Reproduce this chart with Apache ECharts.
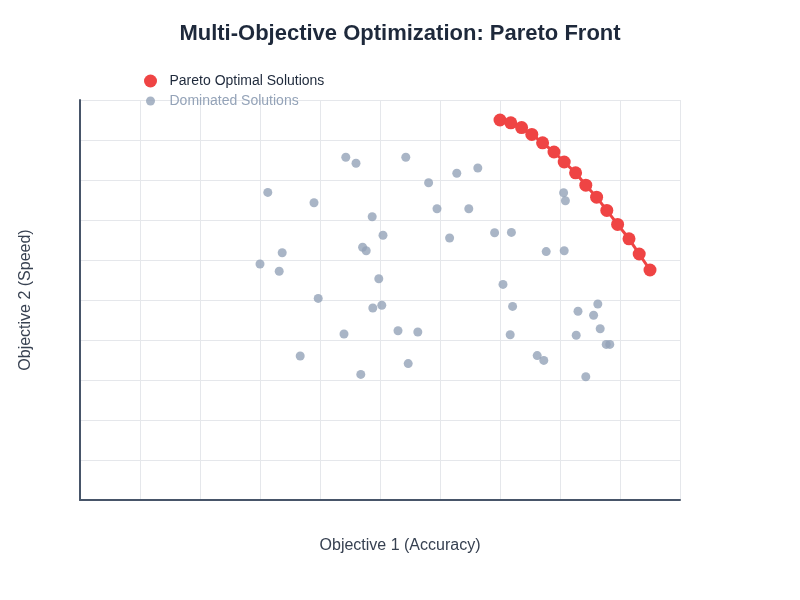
<!DOCTYPE html>
<html>
<head>
<meta charset="utf-8">
<script src="https://cdn.jsdelivr.net/npm/echarts@6/dist/echarts.min.js"></script>
<style>html,body{margin:0;padding:0;background:#fff}#chart{width:800px;height:600px}</style>
</head>
<body>
<div id="chart"></div>
<script>
const paretoX = [70, 71.8, 73.6, 75.3, 77.1, 79.0, 80.7, 82.6, 84.3, 86.1, 87.8, 89.6, 91.5, 93.2, 95];
const paretoY = [95, 94.3, 93.1, 91.4, 89.3, 87.0, 84.5, 81.8, 78.7, 75.7, 72.4, 68.9, 65.3, 61.5, 57.5];

const domX = [44.3, 46.0, 54.3, 58.1, 62.8, 66.3, 31.3, 39.0, 48.7, 59.5, 64.8, 50.5, 47.1, 47.7, 61.6, 69.1, 71.9, 77.7, 80.7, 80.6, 80.9, 30.0, 33.7, 33.2, 49.8, 39.7, 48.8, 50.3, 70.5, 72.1, 44.0, 53.0, 56.3, 71.7, 83.0, 86.3, 85.6, 86.7, 82.7, 87.7, 88.3, 36.7, 54.7, 46.8, 76.2, 77.3, 84.3];
const domY = [85.7, 84.2, 85.7, 79.3, 81.7, 83.0, 76.9, 74.3, 70.8, 72.8, 72.8, 66.2, 63.2, 62.3, 65.5, 66.8, 66.9, 62.1, 62.3, 76.8, 74.8, 59.0, 61.8, 57.2, 55.3, 50.4, 48.0, 48.7, 53.9, 48.4, 41.5, 42.3, 42.0, 41.3, 47.2, 49.0, 46.2, 42.8, 41.2, 38.9, 38.9, 36.0, 34.1, 31.4, 36.1, 34.9, 30.8];

const seriesNames = ['Pareto Optimal Solutions', 'Dominated Solutions'];
const titleText = 'Multi-Objective Optimization: Pareto Front';
const xName = 'Objective 1 (Accuracy)';
const yName = 'Objective 2 (Speed)';

const chart = echarts.init(document.getElementById('chart'));
const axisCommon = {
  type: 'value', min: 0, max: 100, interval: 10,
  nameLocation: 'middle',
  axisLine: { show: true, lineStyle: { color: '#475569', width: 2 } },
  axisTick: { show: false },
  axisLabel: { show: false },
  splitLine: { show: true, lineStyle: { color: '#e5e7eb', width: 1 } }
};
const nameStyle = { fontSize: 16, color: '#374151', fontFamily: 'Liberation Sans, Arial, sans-serif' };
chart.setOption({
  backgroundColor: '#ffffff',
  animation: false,
  title: {
    text: titleText, left: 'center', top: 18,
    textStyle: { fontSize: 22, fontWeight: 'bold', color: '#1e293b', fontFamily: 'Liberation Sans, Arial, sans-serif' }
  },
  legend: [
    {
      data: [seriesNames[0]], left: 139, top: 69, icon: 'circle', itemWidth: 28, itemHeight: 13,
      textStyle: { fontSize: 14, color: '#1e293b', fontFamily: 'Liberation Sans, Arial, sans-serif' }
    },
    {
      data: [seriesNames[1]], left: 141, top: 89, icon: 'circle', itemWidth: 28, itemHeight: 9,
      textStyle: { fontSize: 14, color: '#94a3b8', fontFamily: 'Liberation Sans, Arial, sans-serif' }
    }
  ],
  grid: { left: 80, right: 120, top: 100, bottom: 100 },
  xAxis: Object.assign({}, axisCommon, { name: xName, nameGap: 38, nameTextStyle: Object.assign({ padding: [0, 0, 0, 40] }, nameStyle) }),
  yAxis: Object.assign({}, axisCommon, { name: yName, nameGap: 46, nameTextStyle: nameStyle }),
  series: [
    {
      name: seriesNames[1], type: 'scatter', symbol: 'circle', symbolSize: 9,
      itemStyle: { color: '#94a3b8' },
      data: domX.map((x, i) => [x, domY[i]]), z: 2
    },
    {
      name: seriesNames[0], type: 'line', symbol: 'circle', symbolSize: 13,
      itemStyle: { color: '#ef4444' }, lineStyle: { color: '#ef4444', width: 3 },
      data: paretoX.map((x, i) => [x, paretoY[i]]), z: 3
    }
  ]
});
</script>
</body>
</html>
